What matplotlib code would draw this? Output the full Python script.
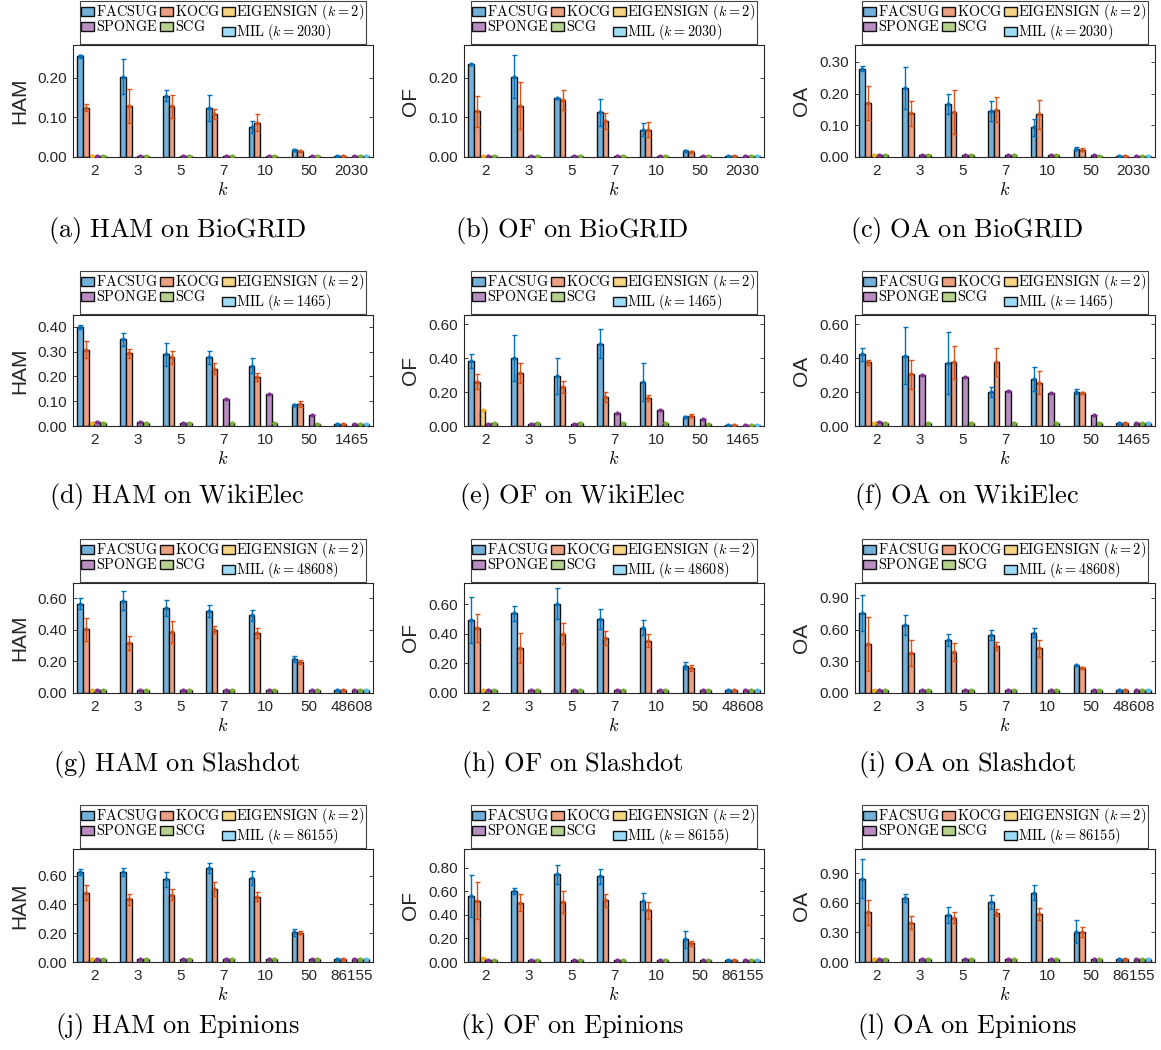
import numpy as np
import matplotlib
matplotlib.use("Agg")
import matplotlib.pyplot as plt

plt.rcParams['mathtext.fontset'] = 'cm'
plt.rcParams['font.family'] = ['Liberation Sans', 'DejaVu Sans']

nan = np.nan
K_LABELS_COMMON = ['2', '3', '5', '7', '10', '50']
METHODS = ['FACSUG', 'KOCG', 'EIGENSIGN', 'SPONGE', 'SCG', 'MIL']

# ---------------- (a) HAM on BioGRID ----------------
A_FACSUG = [0.254, 0.203, 0.155, 0.124, 0.076, 0.018, 0.002]
A_FACSUG_ERR = [0.003, 0.044, 0.014, 0.033, 0.016, 0.002, 0.0]
A_KOCG = [0.125, 0.129, 0.128, 0.108, 0.087, 0.015, 0.002]
A_KOCG_ERR = [0.009, 0.044, 0.029, 0.013, 0.022, 0.001, 0.0]
A_EIGEN = [0.002, nan, nan, nan, nan, nan, nan]
A_SPONGE = [0.003, 0.003, 0.003, 0.003, 0.003, 0.003, 0.002]
A_SCG = [0.003, 0.003, 0.003, 0.003, 0.003, 0.002, 0.002]
A_MIL = [nan, nan, nan, nan, nan, nan, 0.002]

# ---------------- (b) OF on BioGRID ----------------
B_FACSUG = [0.234, 0.203, 0.148, 0.113, 0.069, 0.015, 0.002]
B_FACSUG_ERR = [0.002, 0.055, 0.002, 0.034, 0.016, 0.002, 0.0]
B_KOCG = [0.116, 0.130, 0.145, 0.091, 0.069, 0.013, 0.002]
B_KOCG_ERR = [0.039, 0.059, 0.025, 0.019, 0.019, 0.001, 0.0]
B_EIGEN = [0.002, nan, nan, nan, nan, nan, nan]
B_SPONGE = [0.003, 0.003, 0.003, 0.003, 0.003, 0.003, 0.002]
B_SCG = [0.003, 0.003, 0.003, 0.003, 0.003, 0.002, 0.002]
B_MIL = [nan, nan, nan, nan, nan, nan, 0.002]

# ---------------- (c) OA on BioGRID ----------------
C_FACSUG = [0.278, 0.217, 0.167, 0.145, 0.093, 0.026, 0.003]
C_FACSUG_ERR = [0.008, 0.067, 0.031, 0.032, 0.028, 0.004, 0.0]
C_KOCG = [0.171, 0.138, 0.142, 0.149, 0.134, 0.023, 0.003]
C_KOCG_ERR = [0.054, 0.039, 0.069, 0.039, 0.047, 0.004, 0.0]
C_EIGEN = [0.007, nan, nan, nan, nan, nan, nan]
C_SPONGE = [0.005, 0.005, 0.005, 0.005, 0.005, 0.005, 0.003]
C_SCG = [0.007, 0.006, 0.006, 0.006, 0.006, 0.004, 0.003]
C_MIL = [nan, nan, nan, nan, nan, nan, 0.003]

# ---------------- (d) HAM on WikiElec ----------------
D_FACSUG = [0.400, 0.350, 0.288, 0.277, 0.242, 0.083, 0.009]
D_FACSUG_ERR = [0.008, 0.026, 0.047, 0.027, 0.030, 0.004, 0.0]
D_KOCG = [0.307, 0.292, 0.276, 0.230, 0.197, 0.089, 0.009]
D_KOCG_ERR = [0.035, 0.018, 0.025, 0.022, 0.017, 0.013, 0.0]
D_EIGEN = [0.012, nan, nan, nan, nan, nan, nan]
D_SPONGE = [0.015, 0.018, 0.014, 0.110, 0.129, 0.046, 0.009]
D_SCG = [0.012, 0.012, 0.012, 0.012, 0.012, 0.008, 0.009]
D_MIL = [nan, nan, nan, nan, nan, nan, 0.009]

# ---------------- (e) OF on WikiElec ----------------
E_FACSUG = [0.385, 0.400, 0.296, 0.485, 0.258, 0.054, 0.005]
E_FACSUG_ERR = [0.042, 0.137, 0.107, 0.086, 0.113, 0.004, 0.0]
E_KOCG = [0.262, 0.314, 0.231, 0.171, 0.165, 0.060, 0.005]
E_KOCG_ERR = [0.044, 0.060, 0.034, 0.028, 0.018, 0.008, 0.0]
E_EIGEN = [0.095, nan, nan, nan, nan, nan, nan]
E_SPONGE = [0.013, 0.013, 0.012, 0.076, 0.095, 0.040, 0.005]
E_SCG = [0.016, 0.017, 0.016, 0.017, 0.017, 0.009, 0.005]
E_MIL = [nan, nan, nan, nan, nan, nan, 0.005]

# ---------------- (f) OA on WikiElec ----------------
F_FACSUG = [0.422, 0.416, 0.373, 0.201, 0.278, 0.203, 0.020]
F_FACSUG_ERR = [0.041, 0.171, 0.183, 0.030, 0.073, 0.016, 0.0]
F_KOCG = [0.375, 0.304, 0.375, 0.379, 0.256, 0.195, 0.020]
F_KOCG_ERR = [0.017, 0.088, 0.100, 0.084, 0.067, 0.003, 0.0]
F_EIGEN = [0.020, nan, nan, nan, nan, nan, nan]
F_SPONGE = [0.022, 0.298, 0.290, 0.205, 0.197, 0.063, 0.020]
F_SCG = [0.020, 0.020, 0.020, 0.020, 0.020, 0.020, 0.020]
F_MIL = [nan, nan, nan, nan, nan, nan, 0.020]

# ---------------- (g) HAM on Slashdot ----------------
G_FACSUG = [0.564, 0.583, 0.537, 0.520, 0.490, 0.215, 0.020]
G_FACSUG_ERR = [0.036, 0.059, 0.048, 0.038, 0.032, 0.017, 0.0]
G_KOCG = [0.402, 0.316, 0.385, 0.400, 0.377, 0.196, 0.020]
G_KOCG_ERR = [0.072, 0.044, 0.070, 0.023, 0.032, 0.012, 0.0]
G_EIGEN = [0.020, nan, nan, nan, nan, nan, nan]
G_SPONGE = [0.020, 0.020, 0.020, 0.020, 0.020, 0.020, 0.020]
G_SCG = [0.020, 0.020, 0.020, 0.020, 0.020, 0.020, 0.020]
G_MIL = [nan, nan, nan, nan, nan, nan, 0.020]

# ---------------- (h) OF on Slashdot ----------------
H_FACSUG = [0.494, 0.539, 0.602, 0.499, 0.440, 0.184, 0.020]
H_FACSUG_ERR = [0.155, 0.050, 0.105, 0.065, 0.051, 0.025, 0.0]
H_KOCG = [0.436, 0.303, 0.400, 0.371, 0.353, 0.168, 0.020]
H_KOCG_ERR = [0.094, 0.100, 0.072, 0.047, 0.045, 0.018, 0.0]
H_EIGEN = [0.020, nan, nan, nan, nan, nan, nan]
H_SPONGE = [0.020, 0.020, 0.020, 0.020, 0.020, 0.020, 0.020]
H_SCG = [0.020, 0.020, 0.020, 0.020, 0.020, 0.020, 0.020]
H_MIL = [nan, nan, nan, nan, nan, nan, 0.020]

# ---------------- (i) OA on Slashdot ----------------
I_FACSUG = [0.758, 0.644, 0.502, 0.549, 0.572, 0.262, 0.027]
I_FACSUG_ERR = [0.170, 0.095, 0.057, 0.047, 0.044, 0.005, 0.0]
I_KOCG = [0.461, 0.379, 0.388, 0.445, 0.423, 0.237, 0.027]
I_KOCG_ERR = [0.255, 0.120, 0.085, 0.035, 0.079, 0.005, 0.0]
I_EIGEN = [0.027, nan, nan, nan, nan, nan, nan]
I_SPONGE = [0.027, 0.027, 0.027, 0.027, 0.027, 0.027, 0.027]
I_SCG = [0.027, 0.027, 0.027, 0.027, 0.027, 0.027, 0.027]
I_MIL = [nan, nan, nan, nan, nan, nan, 0.027]

# ---------------- (j) HAM on Epinions ----------------
J_FACSUG = [0.623, 0.625, 0.576, 0.656, 0.586, 0.208, 0.020]
J_FACSUG_ERR = [0.021, 0.026, 0.051, 0.035, 0.049, 0.025, 0.0]
J_KOCG = [0.481, 0.436, 0.467, 0.509, 0.455, 0.203, 0.020]
J_KOCG_ERR = [0.053, 0.040, 0.039, 0.047, 0.030, 0.010, 0.0]
J_EIGEN = [0.020, nan, nan, nan, nan, nan, nan]
J_SPONGE = [0.020, 0.020, 0.020, 0.020, 0.020, 0.020, 0.020]
J_SCG = [0.020, 0.020, 0.020, 0.020, 0.020, 0.020, 0.020]
J_MIL = [nan, nan, nan, nan, nan, nan, 0.020]

# ---------------- (k) OF on Epinions ----------------
K_FACSUG = [0.560, 0.603, 0.743, 0.728, 0.515, 0.193, 0.020]
K_FACSUG_ERR = [0.177, 0.028, 0.080, 0.062, 0.074, 0.070, 0.0]
K_KOCG = [0.521, 0.503, 0.509, 0.523, 0.438, 0.159, 0.020]
K_KOCG_ERR = [0.157, 0.070, 0.090, 0.057, 0.070, 0.022, 0.0]
K_EIGEN = [0.030, nan, nan, nan, nan, nan, nan]
K_SPONGE = [0.020, 0.020, 0.020, 0.020, 0.020, 0.020, 0.020]
K_SCG = [0.020, 0.020, 0.020, 0.020, 0.020, 0.020, 0.020]
K_MIL = [nan, nan, nan, nan, nan, nan, 0.020]

# ---------------- (l) OA on Epinions ----------------
L_FACSUG = [0.845, 0.650, 0.476, 0.609, 0.701, 0.308, 0.030]
L_FACSUG_ERR = [0.198, 0.041, 0.082, 0.075, 0.076, 0.120, 0.0]
L_KOCG = [0.503, 0.400, 0.448, 0.500, 0.489, 0.301, 0.030]
L_KOCG_ERR = [0.123, 0.068, 0.055, 0.034, 0.058, 0.051, 0.0]
L_EIGEN = [0.030, nan, nan, nan, nan, nan, nan]
L_SPONGE = [0.030, 0.030, 0.030, 0.030, 0.030, 0.030, 0.030]
L_SCG = [0.030, 0.030, 0.030, 0.030, 0.030, 0.030, 0.030]
L_MIL = [nan, nan, nan, nan, nan, nan, 0.030]

DATASETS = ['BioGRID', 'WikiElec', 'Slashdot', 'Epinions']
DATASET_K = ['2030', '1465', '48608', '86155']
METRICS = ['HAM', 'OF', 'OA']
LETTERS = 'abcdefghijkl'
YTICKS = [[0, 0.1, 0.2], [0, 0.1, 0.2], [0, 0.1, 0.2, 0.3],
          [0, 0.1, 0.2, 0.3, 0.4], [0, 0.2, 0.4, 0.6], [0, 0.2, 0.4, 0.6],
          [0, 0.2, 0.4, 0.6], [0, 0.2, 0.4, 0.6], [0, 0.3, 0.6, 0.9],
          [0, 0.2, 0.4, 0.6], [0, 0.2, 0.4, 0.6, 0.8], [0, 0.3, 0.6, 0.9]]
YMAX = [0.283, 0.283, 0.353, 0.447, 0.656, 0.655, 0.695, 0.742, 1.04, 0.786, 0.959, 1.146]

PANELS = [
    (A_FACSUG, A_FACSUG_ERR, A_KOCG, A_KOCG_ERR, A_EIGEN, A_SPONGE, A_SCG, A_MIL),
    (B_FACSUG, B_FACSUG_ERR, B_KOCG, B_KOCG_ERR, B_EIGEN, B_SPONGE, B_SCG, B_MIL),
    (C_FACSUG, C_FACSUG_ERR, C_KOCG, C_KOCG_ERR, C_EIGEN, C_SPONGE, C_SCG, C_MIL),
    (D_FACSUG, D_FACSUG_ERR, D_KOCG, D_KOCG_ERR, D_EIGEN, D_SPONGE, D_SCG, D_MIL),
    (E_FACSUG, E_FACSUG_ERR, E_KOCG, E_KOCG_ERR, E_EIGEN, E_SPONGE, E_SCG, E_MIL),
    (F_FACSUG, F_FACSUG_ERR, F_KOCG, F_KOCG_ERR, F_EIGEN, F_SPONGE, F_SCG, F_MIL),
    (G_FACSUG, G_FACSUG_ERR, G_KOCG, G_KOCG_ERR, G_EIGEN, G_SPONGE, G_SCG, G_MIL),
    (H_FACSUG, H_FACSUG_ERR, H_KOCG, H_KOCG_ERR, H_EIGEN, H_SPONGE, H_SCG, H_MIL),
    (I_FACSUG, I_FACSUG_ERR, I_KOCG, I_KOCG_ERR, I_EIGEN, I_SPONGE, I_SCG, I_MIL),
    (J_FACSUG, J_FACSUG_ERR, J_KOCG, J_KOCG_ERR, J_EIGEN, J_SPONGE, J_SCG, J_MIL),
    (K_FACSUG, K_FACSUG_ERR, K_KOCG, K_KOCG_ERR, K_EIGEN, K_SPONGE, K_SCG, K_MIL),
    (L_FACSUG, L_FACSUG_ERR, L_KOCG, L_KOCG_ERR, L_EIGEN, L_SPONGE, L_SCG, L_MIL),
]

LINE_COLORS = ['#0072BD', '#D95319', '#EDB120', '#7E2F8E', '#77AC30', '#4DBEEE']

W, H = 1161, 1050
fig = plt.figure(figsize=(W / 100, H / 100), dpi=100)

COL_LEFT = [73, 464, 855]
AX_W = 300
ROW_TB = [(45, 157), (315, 426), (583, 693), (849, 962)]
CAP_Y = [230, 497, 765, 1027]
CAP_X = [177, 572, 967]

TICK_COLOR = '#262626'

def lighten(c, a=0.5):
    c = np.array(matplotlib.colors.to_rgb(c))
    return tuple(1 - a * (1 - c))

for p in range(12):
    r, c = divmod(p, 3)
    top, bot = ROW_TB[r]
    left = COL_LEFT[c]
    ax = fig.add_axes([left / W, 1 - bot / H, AX_W / W, (bot - top) / H])
    fac, fac_e, koc, koc_e, eig, spo, scg, mil = PANELS[p]
    series = [fac, koc, eig, spo, scg, mil]
    errs = [fac_e, koc_e, None, None, None, None]
    n = len(fac)
    x = np.arange(n)
    bw = 0.8 / 6
    handles = []
    for s in range(6):
        vals = np.array(series[s], dtype=float)
        xs = x - 0.4 + bw * (s + 0.5)
        b = ax.bar(xs, vals, width=bw, color=lighten(LINE_COLORS[s], 0.55),
                   edgecolor='#111111', linewidth=1.0, zorder=2)
        handles.append(b)
        e = np.zeros(n) if errs[s] is None else np.array(errs[s], dtype=float)
        ax.errorbar(xs, vals, yerr=e, fmt='.', color=LINE_COLORS[s],
                    markersize=4, elinewidth=1.0, capsize=1.8, capthick=1.0,
                    zorder=3)
    ax.set_xlim(-0.5, n - 0.5)
    ax.set_ylim(0, YMAX[p])
    ax.set_yticks(YTICKS[p])
    ax.set_yticklabels(['%.2f' % v for v in YTICKS[p]])
    ax.set_xticks(x)
    ax.set_xticklabels(K_LABELS_COMMON + [DATASET_K[r]])
    ax.tick_params(axis='both', direction='in', labelsize=11,
                   colors=TICK_COLOR, length=3, width=0.6, pad=4)
    ax.tick_params(axis='y', right=True)
    ax.tick_params(axis='x', length=0, pad=5)
    for sp in ax.spines.values():
        sp.set_color('#262626')
        sp.set_linewidth(0.8)
    ax.set_ylabel(METRICS[c], fontsize=15, color=TICK_COLOR, labelpad=6)
    ax.set_xlabel(r'$k$', fontsize=13, labelpad=3)

    labels = [r'$\mathrm{FACSUG}$', r'$\mathrm{KOCG}$',
              r'$\mathrm{EIGENSIGN}\ (k=2)$', r'$\mathrm{SPONGE}$',
              r'$\mathrm{SCG}$', r'$\mathrm{MIL}\ (k=%s)$' % DATASET_K[r]]
    order = [0, 3, 1, 4, 2, 5]
    leg = ax.legend([handles[i] for i in order], [labels[i] for i in order],
                    ncol=3, loc='lower center', bbox_to_anchor=(0.5, 1.0),
                    fontsize=10.3, handlelength=0.9, handleheight=0.55,
                    handletextpad=0.12, columnspacing=0.15, borderpad=0.1,
                    labelspacing=0.0, borderaxespad=0.08, frameon=True,
                    fancybox=False, edgecolor='#111111')
    leg.get_frame().set_linewidth(0.8)

    cap = r'$\mathrm{(%s)\ %s\ on\ %s}$' % (LETTERS[p], METRICS[c], DATASETS[r])
    fig.text(CAP_X[c] / W, 1 - CAP_Y[r] / H, cap,
             fontsize=19, ha='center', va='center')

fig.savefig('out.png', dpi=100)
